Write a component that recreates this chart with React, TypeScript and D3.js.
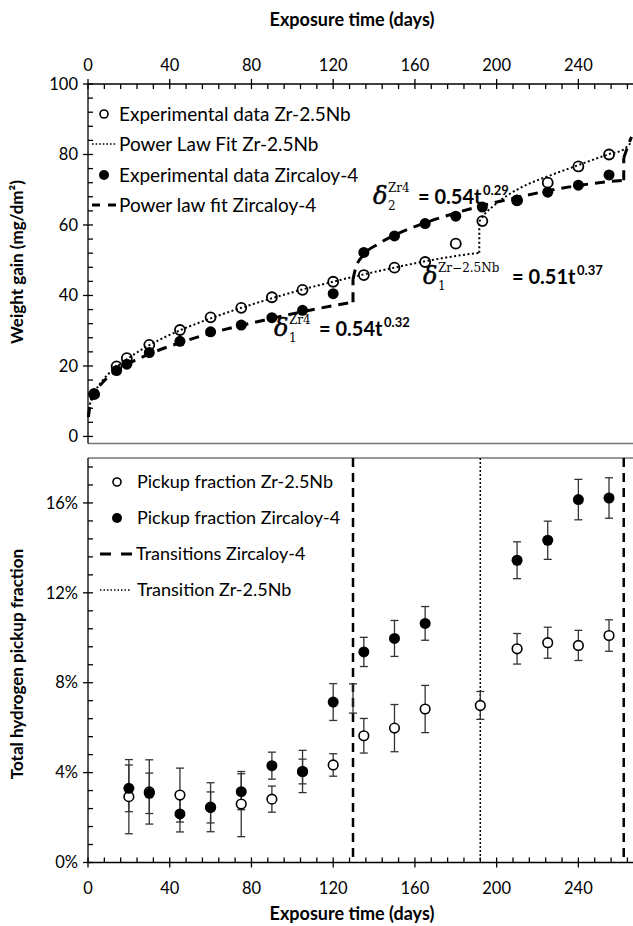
import * as d3 from "d3";

const W = 633;
const H = 926;
const SANS = "Lato, 'Open Sans', sans-serif";
const SERIF = "'DejaVu Serif', 'Liberation Serif', serif";

// tick labels
const dayTicks = [0, 40, 80, 120, 160, 200, 240];
const gainTicks = [0, 20, 40, 60, 80, 100];
const pickupTicks = [0, 4, 8, 12, 16];

// weight gain (mg/dm²), experimental points
const nbDays = [3, 14, 19, 30, 45, 60, 75, 90, 105, 120, 135, 150, 165, 180, 193, 210, 225, 240, 255];
const nbGain = [12, 19.9, 22.2, 26, 30.2, 33.8, 36.5, 39.5, 41.6, 43.9, 45.8, 47.9, 49.5, 54.7, 61.1, 67, 72, 76.6, 80];
const zr4Days = [3, 14, 19, 30, 45, 60, 75, 90, 105, 120, 135, 150, 165, 180, 193, 210, 225, 240, 255];
const zr4Gain = [12.1, 18.7, 20.5, 23.8, 27, 29.7, 31.6, 33.7, 35.8, 40.5, 52.2, 56.9, 60.4, 62.5, 65.1, 67, 69.3, 71.3, 74.2];

// power law fits, split at the transitions
const nbFitA: [number, number][] = [
  [0.2, 6.5], [1, 9.2], [3, 12.2], [7, 15.8], [14, 19.7], [20, 22.3], [30, 25.9], [45, 30.1],
  [60, 33.5], [75, 36.5], [90, 39.2], [105, 41.7], [120, 43.9], [135, 46], [150, 47.9],
  [165, 49.7], [180, 51.2], [191.5, 52.1],
];
const nbFitB: [number, number][] = [
  [191.5, 61], [194, 63], [198, 65.2], [205, 68.3], [215, 71.5], [225, 73.8], [240, 77],
  [255, 80.1], [262, 81.4], [266, 83.5],
];
const zr4FitA: [number, number][] = [
  [0.2, 5.5], [1, 8.8], [3, 12], [7, 15.2], [14, 18.6], [20, 20.7], [30, 23.4], [45, 26.6],
  [60, 29.3], [75, 31.5], [90, 33.5], [105, 35.4], [120, 37.1], [129.7, 38.1],
];
const zr4FitB: [number, number][] = [
  [129.7, 44.5], [131, 47.8], [135, 51.6], [142, 54.6], [150, 57.1], [165, 60.6], [180, 63.4],
  [195, 65.8], [210, 67.8], [225, 69.7], [240, 71.2], [255, 72.3], [262.2, 72.7],
];
const zr4FitC: [number, number][] = [[262.2, 79], [264, 82], [266, 85]];

// total hydrogen pickup fraction (%), with error bar half-widths
const nbPickDays = [20, 30, 45, 60, 75, 90, 105, 120, 135, 150, 165, 192, 210, 225, 240, 255];
const nbPick = [2.93, 3.14, 3.0, 2.46, 2.6, 2.82, 4.05, 4.34, 5.64, 5.98, 6.83, 6.99, 9.51, 9.78, 9.66, 10.1];
const nbPickErr = [1.65, 1.43, 1.2, 1.09, 1.45, 0.58, 0.94, 0.5, 0.77, 1.05, 1.05, 0.62, 0.68, 0.69, 0.67, 0.7];
const zr4PickDays = [20, 30, 45, 60, 75, 90, 105, 120, 135, 150, 165, 210, 225, 240, 255];
const zr4Pick = [3.3, 3.08, 2.16, 2.45, 3.15, 4.31, 4.05, 7.14, 9.37, 9.97, 10.64, 13.45, 14.34, 16.15, 16.22];
const zr4PickErr = [1.04, 0.9, 0.8, 0.69, 0.8, 0.6, 0.55, 0.82, 0.65, 0.8, 0.75, 0.82, 0.85, 0.9, 0.9];
// an error bar with no visible marker sitting on the first transition line
const strayDays = [129.7];
const strayPick = [7.3];
const strayErr = [0.65];

const zr4Transitions = [129.7, 262.2];
const nbTransitions = [192];

const left = 88;
const right = 633;
const x = d3.scaleLinear().domain([0, 266]).range([left, 631.5]);
const yGain = d3.scaleLinear().domain([-2, 100]).range([443.5, 84]);
const yPick = d3.scaleLinear().domain([0, 18]).range([862.5, 458]);

const fitLine = d3
  .line<[number, number]>()
  .x((d) => x(d[0]))
  .y((d) => yGain(d[1]))
  .curve(d3.curveMonotoneX);

function fitPath(segs: [number, number][][]) {
  let d = "";
  segs.forEach((s, i) => {
    if (i > 0) {
      const p = segs[i - 1][segs[i - 1].length - 1];
      d += `M${x(p[0])},${yGain(p[1])}L${x(s[0][0])},${yGain(s[0][1])}`;
    }
    d += fitLine(s);
  });
  return d;
}

const minorDays = d3.range(0, 266, 8).filter((d) => d % 40 !== 0);
const minorGain = d3.range(0, 100, 4).filter((d) => d % 20 !== 0);
const minorPick = d3.range(0, 18, 0.8).filter((d) => Math.abs(d / 4 - Math.round(d / 4)) > 0.01);

const DOTTED = "2,2.5";
const DASHED = "10,7";
const TICK_FONT = 16.5;
const LEGEND_TOP = 19;

function Formula({
  x0, y0, sub, sup, rhs, exp, rhsX,
}: { x0: number; y0: number; sub: string; sup: string; rhs: string; exp: string; rhsX: number }) {
  return (
    <g>
      <text x={x0} y={y0} fontFamily={SERIF} fontStyle="italic" fontSize={24} stroke="#000" strokeWidth={0.5}>δ</text>
      <text x={x0 + 15} y={y0 - 12} fontFamily={SERIF} fontSize={12}>{sup}</text>
      <text x={x0 + 15} y={y0 + 6} fontFamily={SERIF} fontSize={12}>{sub}</text>
      <text x={rhsX} y={y0} fontFamily={SANS} fontWeight="bold" fontSize={20}>{rhs}</text>
      <text x={rhsX + 65} y={y0 - 9} fontFamily={SANS} fontWeight="bold" fontSize={13}>{exp}</text>
    </g>
  );
}

export default function App() {
  return (
    <svg width={W} height={H} style={{ display: "block", position: "absolute", left: 0, top: 0, background: "#fff" }}>
      <rect width={W} height={H} fill="#fff" />

      {/* ---------- top panel ---------- */}
      <text x={352} y={26} textAnchor="middle" fontFamily={SANS} fontWeight="bold" fontSize={18}>
        Exposure time (days)
      </text>
      <line x1={left} x2={right} y1={yGain(-2)} y2={yGain(-2)} stroke="#777" strokeWidth={1.5} />
      <line x1={left} x2={right} y1={yGain(100)} y2={yGain(100)} stroke="#000" strokeWidth={1.3} />
      <line x1={left} x2={left} y1={yGain(100)} y2={yGain(-2)} stroke="#000" strokeWidth={1.3} />
      {dayTicks.map((d) => (
        <g key={`tx${d}`}>
          <line x1={x(d)} x2={x(d)} y1={yGain(100) - 5} y2={yGain(100) + 5} stroke="#000" strokeWidth={1.3} />
          <text x={x(d)} y={71} textAnchor="middle" fontFamily={SANS} fontSize={TICK_FONT}>{d}</text>
        </g>
      ))}
      {minorDays.map((d) => (
        <line key={`tm${d}`} x1={x(d)} x2={x(d)} y1={yGain(100)} y2={yGain(100) + 5} stroke="#000" strokeWidth={1.3} />
      ))}
      {gainTicks.map((g) => (
        <g key={`gy${g}`}>
          <line x1={left - 5} x2={left + 5} y1={yGain(g)} y2={yGain(g)} stroke="#000" strokeWidth={1.3} />
          <text x={78} y={yGain(g)} dy="0.35em" textAnchor="end" fontFamily={SANS} fontSize={TICK_FONT}>{g}</text>
        </g>
      ))}
      {minorGain.map((g) => (
        <line key={`gm${g}`} x1={left} x2={left + 5} y1={yGain(g)} y2={yGain(g)} stroke="#000" strokeWidth={1.3} />
      ))}
      <text
        transform={`translate(23,${262}) rotate(-90)`}
        textAnchor="middle"
        fontFamily={SANS}
        fontWeight="bold"
        fontSize={17}
      >
        Weight gain (mg/dm²)
      </text>

      <path d={fitPath([nbFitA, nbFitB])} fill="none" stroke="#000" strokeWidth={2} strokeDasharray={DOTTED} />
      <path d={fitPath([zr4FitA, zr4FitB, zr4FitC])} fill="none" stroke="#000" strokeWidth={3} strokeDasharray={DASHED} />

      {nbDays.map((d, i) => (
        <circle key={`no${i}`} cx={x(d)} cy={yGain(nbGain[i])} r={5} fill="none" stroke="#000" strokeWidth={1.8} />
      ))}
      {zr4Days.map((d, i) => (
        <circle key={`zf${i}`} cx={x(d)} cy={yGain(zr4Gain[i])} r={5.5} fill="#000" />
      ))}

      {/* top legend */}
      <circle cx={104} cy={114} r={4} fill="none" stroke="#000" strokeWidth={1.6} />
      <text x={119} y={114} dy="0.35em" fontFamily={SANS} fontSize={LEGEND_TOP}>Experimental data Zr-2.5Nb</text>
      <line x1={92} x2={116} y1={144} y2={144} stroke="#000" strokeWidth={1.6} strokeDasharray="1.6,2" />
      <text x={119} y={144} dy="0.35em" fontFamily={SANS} fontSize={LEGEND_TOP}>Power Law Fit Zr-2.5Nb</text>
      <circle cx={104} cy={175} r={5} fill="#000" />
      <text x={119} y={175} dy="0.35em" fontFamily={SANS} fontSize={LEGEND_TOP}>Experimental data Zircaloy-4</text>
      <line x1={92} x2={116} y1={205} y2={205} stroke="#000" strokeWidth={3} strokeDasharray="8,8" />
      <text x={119} y={205} dy="0.35em" fontFamily={SANS} fontSize={LEGEND_TOP}>Power law fit Zircaloy-4</text>

      <Formula x0={373} y0={204} sup="Zr4" sub="2" rhs="= 0.54t" exp="0.29" rhsX={418} />
      <Formula x0={423} y0={284} sup="Zr−2.5Nb" sub="1" rhs="= 0.51t" exp="0.37" rhsX={512} />
      <Formula x0={274} y0={336} sup="Zr4" sub="1" rhs="= 0.54t" exp="0.32" rhsX={319} />

      {/* ---------- bottom panel ---------- */}
      <line x1={left} x2={right} y1={yPick(18)} y2={yPick(18)} stroke="#777" strokeWidth={1.5} />
      <line x1={left} x2={right} y1={yPick(0)} y2={yPick(0)} stroke="#000" strokeWidth={1.3} />
      <line x1={left} x2={left} y1={yPick(18)} y2={yPick(0)} stroke="#000" strokeWidth={1.3} />
      {dayTicks.map((d) => (
        <g key={`bx${d}`}>
          <line x1={x(d)} x2={x(d)} y1={yPick(0) - 5} y2={yPick(0) + 5} stroke="#000" strokeWidth={1.3} />
          <text x={x(d)} y={894} textAnchor="middle" fontFamily={SANS} fontSize={TICK_FONT}>{d}</text>
        </g>
      ))}
      {minorDays.map((d) => (
        <line key={`bm${d}`} x1={x(d)} x2={x(d)} y1={yPick(0) - 5} y2={yPick(0)} stroke="#000" strokeWidth={1.3} />
      ))}
      {pickupTicks.map((p) => (
        <g key={`py${p}`}>
          <line x1={left - 5} x2={left + 5} y1={yPick(p)} y2={yPick(p)} stroke="#000" strokeWidth={1.3} />
          <text x={78} y={yPick(p)} dy="0.35em" textAnchor="end" fontFamily={SANS} fontSize={TICK_FONT}>{`${p}%`}</text>
        </g>
      ))}
      {minorPick.map((p) => (
        <line key={`pm${p}`} x1={left} x2={left + 5} y1={yPick(p)} y2={yPick(p)} stroke="#000" strokeWidth={1.3} />
      ))}
      <text x={352} y={920} textAnchor="middle" fontFamily={SANS} fontWeight="bold" fontSize={18}>
        Exposure time (days)
      </text>
      <text
        transform={`translate(23,${664}) rotate(-90)`}
        textAnchor="middle"
        fontFamily={SANS}
        fontWeight="bold"
        fontSize={17}
      >
        Total hydrogen pickup fraction
      </text>

      {zr4Transitions.map((d) => (
        <line key={`zt${d}`} x1={x(d)} x2={x(d)} y1={yPick(18)} y2={yPick(0)} stroke="#000" strokeWidth={2.5} strokeDasharray="9,6" />
      ))}
      {nbTransitions.map((d) => (
        <line key={`nt${d}`} x1={x(d)} x2={x(d)} y1={yPick(18)} y2={yPick(0)} stroke="#000" strokeWidth={1.5} strokeDasharray="2,2" />
      ))}

      {[
        { days: nbPickDays, vals: nbPick, errs: nbPickErr },
        { days: zr4PickDays, vals: zr4Pick, errs: zr4PickErr },
        { days: strayDays, vals: strayPick, errs: strayErr },
      ].map((s, si) =>
        s.days.map((d, i) => {
          const cx = x(d);
          const lo = yPick(s.vals[i] - s.errs[i]);
          const hi = yPick(s.vals[i] + s.errs[i]);
          return (
            <g key={`e${si}-${i}`} stroke="#333" strokeWidth={1.3}>
              <line x1={cx} x2={cx} y1={lo} y2={hi} />
              <line x1={cx - 4} x2={cx + 4} y1={lo} y2={lo} />
              <line x1={cx - 4} x2={cx + 4} y1={hi} y2={hi} />
            </g>
          );
        })
      )}
      {nbPickDays.map((d, i) => (
        <circle key={`po${i}`} cx={x(d)} cy={yPick(nbPick[i])} r={4.8} fill="#fff" stroke="#000" strokeWidth={1.6} />
      ))}
      {zr4PickDays.map((d, i) => (
        <circle key={`pf${i}`} cx={x(d)} cy={yPick(zr4Pick[i])} r={5.5} fill="#000" />
      ))}

      {/* bottom legend */}
      <circle cx={117} cy={482} r={4} fill="none" stroke="#000" strokeWidth={1.6} />
      <text x={137} y={482} dy="0.35em" fontFamily={SANS} fontSize={18}>Pickup fraction Zr-2.5Nb</text>
      <circle cx={117} cy={518} r={5} fill="#000" />
      <text x={137} y={518} dy="0.35em" fontFamily={SANS} fontSize={18}>Pickup fraction Zircaloy-4</text>
      <line x1={100} x2={132} y1={554} y2={554} stroke="#000" strokeWidth={3} strokeDasharray="11,10" />
      <text x={136} y={554} dy="0.35em" fontFamily={SANS} fontSize={18}>Transitions Zircaloy-4</text>
      <line x1={100} x2={131} y1={590} y2={590} stroke="#000" strokeWidth={1.5} strokeDasharray="1.5,2" />
      <text x={137} y={590} dy="0.35em" fontFamily={SANS} fontSize={18}>Transition Zr-2.5Nb</text>
    </svg>
  );
}
